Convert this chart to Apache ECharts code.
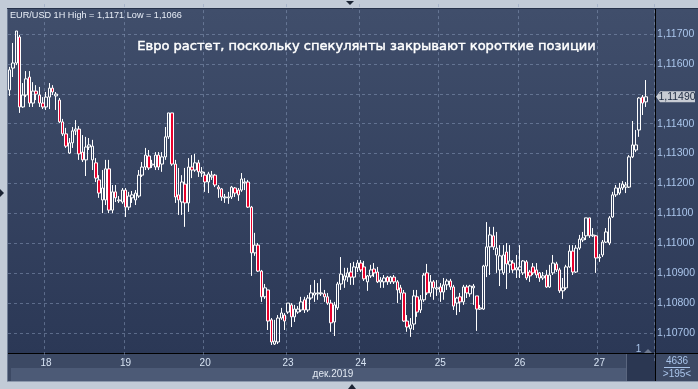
<!DOCTYPE html>
<html><head><meta charset="utf-8">
<script src="https://cdn.jsdelivr.net/npm/echarts@6/dist/echarts.min.js"></script>
<style>html,body{margin:0;padding:0;background:#c2cbd7;}#c{width:698px;height:389px;}</style>
</head><body><div id="c"></div>
<script>
// ---- data (EUR/USD 1H, 17-27 Dec 2019) ----
const opens = [1.11513,1.11586,1.11603,1.11690,1.11456,1.11496,1.11556,1.11469,1.11509,1.11496,
 1.11469,1.11456,1.11489,1.11519,1.11493,1.11479,1.11406,1.11366,1.11302,1.11336,
 1.11376,1.11382,1.11305,1.11279,1.11322,1.11279,1.11269,1.11212,1.11145,1.11145,
 1.11249,1.11111,1.11172,1.11142,1.11138,1.11178,1.11121,1.11152,1.11145,1.11158,
 1.11228,1.11255,1.11292,1.11262,1.11255,1.11295,1.11265,1.11289,1.11356,1.11436,
 1.11265,1.11162,1.11138,1.11198,1.11135,1.11255,1.11245,1.11269,1.11235,1.11228,
 1.11205,1.11222,1.11228,1.11188,1.11182,1.11152,1.11152,1.11155,1.11185,1.11178,
 1.11178,1.11202,1.11205,1.11121,1.10968,1.10994,1.10907,1.10821,1.10844,1.10744,
 1.10663,1.10670,1.10750,1.10760,1.10770,1.10794,1.10754,1.10770,1.10777,1.10811,
 1.10777,1.10817,1.10827,1.10831,1.10831,1.10831,1.10821,1.10800,1.10737,1.10784,
 1.10864,1.10877,1.10887,1.10904,1.10887,1.10918,1.10934,1.10921,1.10871,1.10891,
 1.10914,1.10904,1.10871,1.10871,1.10887,1.10871,1.10887,1.10871,1.10851,1.10834,
 1.10740,1.10714,1.10730,1.10821,1.10777,1.10811,1.10901,1.10834,1.10871,1.10847,
 1.10854,1.10837,1.10861,1.10874,1.10854,1.10800,1.10821,1.10804,1.10854,1.10831,
 1.10851,1.10824,1.10780,1.10780,1.10924,1.10988,1.11025,1.10961,1.10911,1.10901,
 1.10971,1.10928,1.10934,1.10911,1.10911,
 1.10901,1.10938,1.10904,1.10921,1.10911,1.10901,1.10884,1.10894,1.10854,1.10901,
 1.10931,1.10911,1.10841,1.10851,1.10921,1.10974,1.10904,1.10984,1.11011,1.11025,
 1.11085,1.11025,1.11025,1.10951,1.10961,1.11004,1.11001,1.11088,1.11162,1.11168,
 1.11185,
 1.11188,1.11188,1.11289,1.11312,1.11379,1.11489,1.11473];
const closes = [1.11580,1.11603,1.11710,1.11456,1.11496,1.11550,1.11469,1.11509,1.11499,1.11469,
 1.11456,1.11489,1.11519,1.11506,1.11499,1.11406,1.11366,1.11325,1.11336,1.11376,
 1.11382,1.11299,1.11279,1.11322,1.11329,1.11325,1.11218,1.11168,1.11185,1.11249,
 1.11111,1.11172,1.11152,1.11145,1.11178,1.11121,1.11158,1.11162,1.11168,1.11228,
 1.11255,1.11295,1.11252,1.11265,1.11295,1.11255,1.11289,1.11356,1.11436,1.11265,
 1.11155,1.11145,1.11205,1.11135,1.11255,1.11245,1.11269,1.11239,1.11239,1.11205,
 1.11232,1.11228,1.11195,1.11182,1.11155,1.11155,1.11155,1.11188,1.11168,1.11162,
 1.11215,1.11205,1.11121,1.10968,1.10994,1.10907,1.10821,1.10851,1.10740,1.10670,
 1.10673,1.10750,1.10767,1.10740,1.10800,1.10754,1.10780,1.10780,1.10804,1.10777,
 1.10817,1.10834,1.10834,1.10834,1.10834,1.10821,1.10800,1.10734,1.10794,1.10864,
 1.10897,1.10891,1.10901,1.10887,1.10921,1.10934,1.10911,1.10881,1.10891,1.10911,
 1.10901,1.10871,1.10877,1.10884,1.10871,1.10887,1.10871,1.10844,1.10834,1.10740,
 1.10720,1.10727,1.10824,1.10770,1.10811,1.10894,1.10834,1.10871,1.10851,1.10851,
 1.10837,1.10861,1.10874,1.10854,1.10790,1.10817,1.10804,1.10854,1.10834,1.10857,
 1.10857,1.10780,1.10784,1.10924,1.10988,1.11028,1.10988,1.10984,1.10958,1.10961,
 1.10931,1.10941,1.10911,1.10918,1.10921,
 1.10941,1.10884,1.10891,1.10901,1.10894,1.10884,1.10891,1.10854,1.10894,1.10934,
 1.10911,1.10841,1.10851,1.10921,1.10974,1.10904,1.10984,1.11014,1.11018,1.11085,
 1.11025,1.11028,1.10951,1.10954,1.11004,1.11038,1.11085,1.11162,1.11185,1.11185,
 1.11198,
 1.11195,1.11289,1.11329,1.11329,1.11486,1.11469,1.11490];
const lows = [1.11493,1.11556,1.11596,1.11436,1.11453,1.11489,1.11456,1.11456,1.11479,1.11456,
 1.11449,1.11446,1.11449,1.11496,1.11446,1.11402,1.11359,1.11319,1.11299,1.11319,
 1.11362,1.11279,1.11272,1.11225,1.11312,1.11245,1.11205,1.11152,1.11101,1.11128,
 1.11101,1.11101,1.11138,1.11135,1.11132,1.11088,1.11111,1.11135,1.11128,1.11152,
 1.11222,1.11245,1.11245,1.11252,1.11245,1.11245,1.11239,1.11279,1.11349,1.11259,
 1.11135,1.11095,1.11095,1.11055,1.11105,1.11218,1.11239,1.11222,1.11222,1.11172,
 1.11168,1.11212,1.11188,1.11152,1.11142,1.11135,1.11132,1.11148,1.11155,1.11142,
 1.11172,1.11178,1.11118,1.10891,1.10958,1.10904,1.10804,1.10814,1.10710,1.10660,
 1.10660,1.10663,1.10744,1.10710,1.10764,1.10720,1.10737,1.10764,1.10770,1.10767,
 1.10770,1.10811,1.10804,1.10811,1.10824,1.10804,1.10794,1.10704,1.10690,1.10777,
 1.10844,1.10851,1.10871,1.10861,1.10861,1.10904,1.10904,1.10874,1.10841,1.10884,
 1.10887,1.10867,1.10851,1.10851,1.10861,1.10864,1.10864,1.10800,1.10811,1.10737,
 1.10704,1.10687,1.10710,1.10754,1.10767,1.10804,1.10827,1.10821,1.10811,1.10824,
 1.10804,1.10811,1.10844,1.10844,1.10777,1.10760,1.10770,1.10794,1.10817,1.10821,
 1.10794,1.10707,1.10777,1.10777,1.10887,1.10894,1.10978,1.10901,1.10857,1.10894,
 1.10847,1.10901,1.10901,1.10884,1.10884,
 1.10894,1.10877,1.10871,1.10894,1.10884,1.10871,1.10877,1.10851,1.10851,1.10894,
 1.10904,1.10834,1.10814,1.10844,1.10918,1.10894,1.10901,1.10978,1.11004,1.11011,
 1.11018,1.11021,1.10901,1.10938,1.10954,1.11001,1.10994,1.11085,1.11155,1.11162,
 1.11178,
 1.11168,1.11185,1.11285,1.11305,1.11356,1.11429,1.11456];
const highs = [1.11590,1.11670,1.11710,1.11697,1.11536,1.11576,1.11576,1.11539,1.11529,1.11523,
 1.11489,1.11506,1.11536,1.11529,1.11506,1.11486,1.11416,1.11386,1.11352,1.11389,
 1.11412,1.11392,1.11362,1.11356,1.11352,1.11346,1.11285,1.11228,1.11245,1.11279,
 1.11279,1.11195,1.11195,1.11158,1.11185,1.11185,1.11172,1.11175,1.11178,1.11245,
 1.11272,1.11319,1.11312,1.11279,1.11305,1.11305,1.11305,1.11389,1.11436,1.11436,
 1.11279,1.11252,1.11228,1.11252,1.11285,1.11295,1.11299,1.11279,1.11255,1.11239,
 1.11239,1.11242,1.11232,1.11195,1.11185,1.11165,1.11172,1.11192,1.11188,1.11185,
 1.11235,1.11218,1.11212,1.11125,1.11035,1.11001,1.10911,1.10864,1.10844,1.10750,
 1.10744,1.10760,1.10784,1.10767,1.10800,1.10800,1.10794,1.10790,1.10821,1.10821,
 1.10827,1.10861,1.10877,1.10867,1.10881,1.10844,1.10834,1.10811,1.10804,1.10871,
 1.10954,1.10918,1.10918,1.10934,1.10938,1.10944,1.10944,1.10941,1.10894,1.10928,
 1.10934,1.10921,1.10887,1.10894,1.10891,1.10891,1.10894,1.10877,1.10861,1.10844,
 1.10760,1.10750,1.10844,1.10844,1.10827,1.10901,1.10931,1.10894,1.10877,1.10877,
 1.10867,1.10884,1.10881,1.10881,1.10861,1.10821,1.10834,1.10861,1.10861,1.10861,
 1.10864,1.10824,1.10794,1.10928,1.11071,1.11055,1.11055,1.11038,1.10994,1.10994,
 1.11001,1.10994,1.10944,1.10961,1.10994,
 1.10944,1.10944,1.10911,1.10934,1.10934,1.10904,1.10904,1.10911,1.10928,1.10961,
 1.10938,1.10918,1.10884,1.10928,1.10994,1.10994,1.10994,1.11028,1.11038,1.11085,
 1.11085,1.11051,1.11028,1.10964,1.11011,1.11051,1.11091,1.11172,1.11195,1.11202,
 1.11208,
 1.11205,1.11295,1.11409,1.11379,1.11489,1.11496,1.11546];
const barSlots = 195;                       // visible bar slots (">195<")
const dayTickIndex = [11, 35, 59, 84, 106, 130, 154, 178];
const dayTickLabels = ['18', '19', '20', '23', '24', '25', '26', '27'];
const monthLabel = 'дек.2019';
const yMin = 1.106, yMax = 1.118, yStep = 0.001;
const lastPrice = 1.11490;
const titleText = 'EUR/USD 1H High = 1,1171 Low = 1,1066';
const headline = 'Евро растет, поскольку спекулянты закрывают короткие позиции';
const barsTotal = '4636', barsVisible = '>195<';

// ---- chart ----
const categories = Array.from({length: barSlots}, (_, i) => String(i));
const candles = opens.map((o, i) => [o, closes[i], lows[i], highs[i]]);
const fmt = v => v.toFixed(5).replace('.', ',');
const LIGHT = '#c2cbd7';
const ctx = document.createElement('canvas').getContext('2d');
function fit(text, family, weight, target, base) {
  ctx.font = weight + ' ' + base + 'px ' + family;
  return base * target / ctx.measureText(text).width;
}
const fam = '"Liberation Sans", Arial, sans-serif';
const dashColor = 'rgba(140,158,190,0.5)';

const chart = echarts.init(document.getElementById('c'));
chart.setOption({
  animation: false,
  backgroundColor: LIGHT,
  textStyle: {fontFamily: fam},
  grid: {left: 8, right: 43, top: 4.1, bottom: 26.1},
  xAxis: {
    type: 'category', data: categories, boundaryGap: true,
    axisLine: {show: false}, axisTick: {show: false},
    axisLabel: {
      show: true, interval: (i) => dayTickIndex.includes(i),
      formatter: (v, i) => { const k = dayTickIndex.indexOf(i); return k >= 0 ? dayTickLabels[k] : ''; },
      color: '#d6e2f2', fontSize: 10, margin: -5
    },
    splitLine: {show: true, interval: (i) => dayTickIndex.includes(i),
      lineStyle: {color: dashColor, type: [3, 3], width: 1}}
  },
  yAxis: {
    type: 'value', position: 'right', min: yMin, max: yMax, interval: yStep,
    axisLine: {show: false}, axisTick: {show: false},
    axisLabel: {color: '#abc6ec', fontSize: 10.5, margin: 3,
      formatter: v => (Math.abs(v - lastPrice) < 0.0002 ? '' : fmt(v)),
      showMinLabel: false, showMaxLabel: false},
    splitLine: {show: true, showMinLine: false, showMaxLine: false,
      lineStyle: {color: dashColor, type: [3, 3], width: 1}}
  },
  series: [{
    type: 'candlestick', data: candles, barWidth: 3,
    itemStyle: {color: 'transparent', color0: '#e8002c', borderColor: '#ffffff', borderColor0: '#ffffff', borderWidth: 1}
  }]
});

const yTag = chart.convertToPixel({yAxisIndex: 0}, lastPrice);
const grad = (a, b) => ({type: 'linear', x: 0, y: 0, x2: 0, y2: 1, colorStops: [{offset: 0, color: a}, {offset: 1, color: b}]});
const titleSize = fit(titleText, fam, 'normal', 172, 10);
const headFam = '"DejaVu Sans", sans-serif';
const headSize = fit(headline, headFam, 'normal', 459, 14);
const G = [];
// backgrounds (below axes/series)
G.push({type: 'rect', z: -10, shape: {x: 8, y: 9, width: 647, height: 345}, style: {fill: grad('#404e6b', '#2b3856')}});
G.push({type: 'rect', z: -10, shape: {x: 655, y: 9, width: 43, height: 345}, style: {fill: grad('#404e6b', '#2b3856')}});
// frame panels
G.push({type: 'rect', z: -5, shape: {x: 0, y: 0, width: 698, height: 8}, style: {fill: LIGHT}});
G.push({type: 'rect', z: -5, shape: {x: 0, y: 0, width: 7, height: 389}, style: {fill: LIGHT}});
G.push({type: 'line', z: -5, shape: {x1: 7.5, y1: 8, x2: 7.5, y2: 381}, style: {stroke: '#6f7d95', lineWidth: 1}});
G.push({type: 'line', z: -5, shape: {x1: 7, y1: 8.5, x2: 698, y2: 8.5}, style: {stroke: '#26324a', lineWidth: 1}});
G.push({type: 'rect', z: -5, shape: {x: 8, y: 354, width: 690, height: 27}, style: {fill: '#3c4964'}});
G.push({type: 'rect', z: -5, shape: {x: 11, y: 368, width: 615, height: 13}, style: {fill: '#4c5a76'}});
G.push({type: 'rect', z: -5, shape: {x: 627, y: 354, width: 28, height: 27}, style: {fill: '#2b3752'}});
G.push({type: 'line', z: -5, shape: {x1: 626.5, y1: 354, x2: 626.5, y2: 381}, style: {stroke: '#5a667f', lineWidth: 1}});
G.push({type: 'rect', z: -5, shape: {x: 0, y: 381, width: 698, height: 8}, style: {fill: LIGHT}});
G.push({type: 'line', z: -5, shape: {x1: 7, y1: 381.5, x2: 698, y2: 381.5}, style: {stroke: '#8d99ad', lineWidth: 1}});
G.push({type: 'line', z: -4, shape: {x1: 655.5, y1: 9, x2: 655.5, y2: 381}, style: {stroke: '#000', lineWidth: 1}});
G.push({type: 'line', z: -4, shape: {x1: 8, y1: 353.5, x2: 698, y2: 353.5}, style: {stroke: '#000', lineWidth: 1}});
// triangles
G.push({type: 'polygon', z: 5, shape: {points: [[346, 1], [354, 1], [350, 5]]}, style: {fill: '#1b2434'}});
G.push({type: 'polygon', z: 5, shape: {points: [[0, 189], [0, 197], [4, 193]]}, style: {fill: '#1b2434'}});
G.push({type: 'polygon', z: 5, shape: {points: [[348, 389], [356, 389], [352, 384]]}, style: {fill: '#1b2434'}});
// texts
G.push({type: 'text', z: 5, x: 10, y: 15, style: {text: titleText, fill: '#e8eef7', font: titleSize.toFixed(2) + 'px ' + fam, verticalAlign: 'middle'}});
G.push({type: 'text', z: 5, x: 366.5, y: 47, style: {text: headline, fill: '#ffffff', stroke: '#ffffff', lineWidth: 0.45, font: headSize.toFixed(2) + 'px ' + headFam, align: 'center', verticalAlign: 'middle'}});
G.push({type: 'text', z: 5, x: 333, y: 374.5, style: {text: monthLabel, fill: '#e2e9f3', font: '10px ' + fam, align: 'center', verticalAlign: 'middle'}});
G.push({type: 'text', z: 5, x: 677, y: 361.5, style: {text: barsTotal, fill: '#a9c4ea', font: '10px ' + fam, align: 'center', verticalAlign: 'middle'}});
G.push({type: 'line', z: 5, shape: {x1: 664, y1: 367.5, x2: 690, y2: 367.5}, style: {stroke: '#a9c4ea', lineWidth: 1}});
G.push({type: 'text', z: 5, x: 677, y: 374.5, style: {text: barsVisible, fill: '#a9c4ea', font: '10px ' + fam, align: 'center', verticalAlign: 'middle'}});
G.push({type: 'text', z: 5, x: 638.5, y: 349, style: {text: '1', fill: '#a9c4ea', font: '10px ' + fam, align: 'center', verticalAlign: 'middle'}});
G.push({type: 'polygon', z: 5, shape: {points: [[644, 353], [652, 353], [648, 349]]}, style: {fill: '#6c7890'}});
// last price tag
G.push({type: 'polygon', z: 100, zlevel: 1, shape: {points: [[656, yTag], [660, yTag - 5.5], [695, yTag - 5.5], [695, yTag + 5.5], [660, yTag + 5.5]]}, style: {fill: '#c8ccd4'}});
G.push({type: 'text', z: 101, zlevel: 1, x: 677, y: yTag + 0.5, style: {text: fmt(lastPrice), fill: '#1c2940', font: '10.5px ' + fam, align: 'center', verticalAlign: 'middle'}});
chart.setOption({graphic: {elements: G}});
</script></body></html>
